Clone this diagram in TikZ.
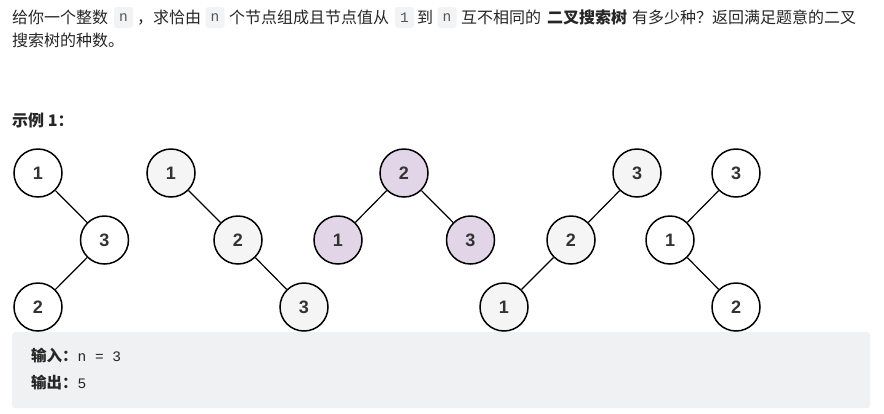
\documentclass[tikz,border=0pt]{standalone}
\usepackage{fontspec}
\newfontfamily\cjk{Noto Sans CJK SC}
\newfontfamily\lblfont{Liberation Sans}
\newfontfamily\monofont{Liberation Mono}
\definecolor{txt}{HTML}{262626}
\definecolor{codebg}{HTML}{F2F3F5}
\definecolor{codetxt}{HTML}{555555}
\definecolor{boxbg}{HTML}{F0F1F3}
\definecolor{lblc}{HTML}{333333}
\definecolor{grayfill}{HTML}{F5F5F5}
\definecolor{purplefill}{HTML}{E1D5E7}
\tikzset{
  para/.style={anchor=base west, inner sep=0pt, text=txt, font=\cjk\fontsize{16}{23}\selectfont},
  code/.style={fill=codebg, rounded corners=3pt, minimum width=19pt, minimum height=21pt, inner sep=0pt, text=codetxt, font=\monofont\fontsize{14.5}{15}\selectfont},
  tnode/.style={circle, draw=black, line width=1.5pt, minimum size=48pt, inner sep=0pt, text=lblc, font=\lblfont\bfseries\fontsize{18}{20}\selectfont},
  wnode/.style={tnode, fill=white},
  gnode/.style={tnode, fill=grayfill},
  pnode/.style={tnode, fill=purplefill},
  edge/.style={draw=black, line width=1.2pt},
  sample/.style={anchor=base west, inner sep=0pt, text=txt}
}
\begin{document}
\begin{tikzpicture}[x=1pt,y=-1pt]
\useasboundingbox[fill=white] (0,0) rectangle (884,413);
% paragraph
\node[para] (t1) at (12,23.5) {给你一个整数};
\node[code] (c1) at (123.5,17.5) {n};
\node[para] (t2) at (137,23.5) {，求恰由};
\node[code] (c2) at (215,17.5) {n};
\node[para] (t3) at (229,23.5) {个节点组成且节点值从};
\node[code] (c3) at (404.5,17.5) {1};
\node[para] (t4) at (417,23.5) {到};
\node[code] (c4) at (447,17.5) {n};
\node[para] (t5) at (461,23.5) {互不相同的};
\node[para, font=\cjk\bfseries\fontsize{16}{23}\selectfont] (t6) at (547,23.5) {二叉搜索树};
\node[para] (t7) at (632,23.5) {有多少种？返回满足题意的二叉};
\node[para] (t8) at (12,46.5) {搜索树的种数。};
\node[para, font=\cjk\bfseries\fontsize{16}{23}\selectfont] (ex) at (12,126) {示例 1：};
% example box
\node[draw=none, fill=boxbg, rounded corners=3pt, anchor=north west, minimum width=858pt, minimum height=76pt, inner sep=0pt] (box) at (12,332) {};
\node[sample] (in) at (31,361) {{\cjk\bfseries\fontsize{15.5}{18}\selectfont 输入：}{\monofont\fontsize{14.5}{18}\selectfont n = 3}};
\node[sample] (out) at (31,388) {{\cjk\bfseries\fontsize{15.5}{18}\selectfont 输出：}{\monofont\fontsize{14.5}{18}\selectfont 5}};
% tree 1
\node[wnode] (a1) at (38,173) {1};
\node[wnode] (a3) at (104.5,240) {3};
\node[wnode] (a2) at (38,307) {2};
\draw[edge] (a1) -- (a3);
\draw[edge] (a3) -- (a2);
% tree 2
\node[gnode] (b1) at (171,173) {1};
\node[gnode] (b2) at (238,240) {2};
\node[gnode] (b3) at (304,307) {3};
\draw[edge] (b1) -- (b2);
\draw[edge] (b2) -- (b3);
% tree 3
\node[pnode] (c2n) at (404,173) {2};
\node[pnode] (c1n) at (338,240) {1};
\node[pnode] (c3n) at (470.5,240) {3};
\draw[edge] (c2n) -- (c1n);
\draw[edge] (c2n) -- (c3n);
% tree 4
\node[gnode] (d3) at (637,173) {3};
\node[gnode] (d2) at (571,240) {2};
\node[gnode] (d1) at (504,307) {1};
\draw[edge] (d3) -- (d2);
\draw[edge] (d2) -- (d1);
% tree 5
\node[wnode] (e3) at (736,173) {3};
\node[wnode] (e1) at (670,240) {1};
\node[wnode] (e2) at (736,307) {2};
\draw[edge] (e3) -- (e1);
\draw[edge] (e1) -- (e2);
\end{tikzpicture}
\end{document}
